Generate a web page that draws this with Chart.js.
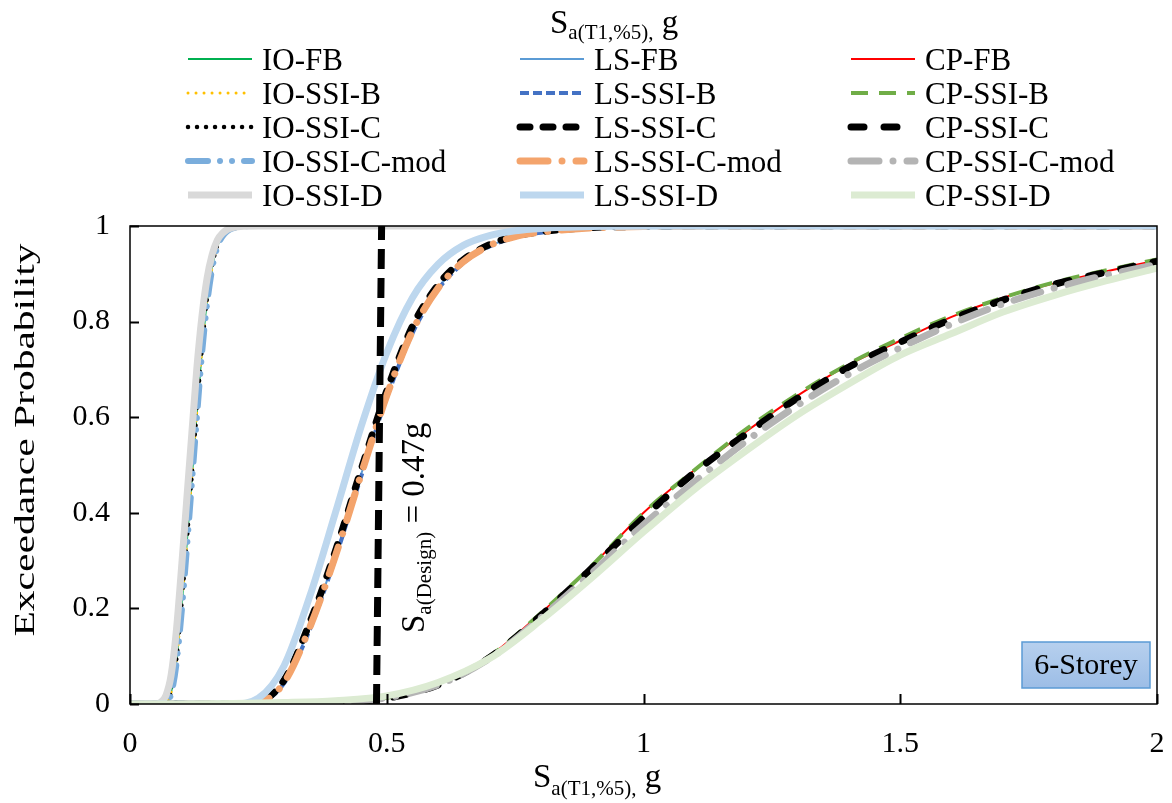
<!DOCTYPE html>
<html>
<head>
<meta charset="utf-8">
<script src="https://cdn.jsdelivr.net/npm/chart.js@4.4.0/dist/chart.umd.min.js"></script>
<style>
  html, body { margin: 0; padding: 0; background: #fff; }
  #wrap { width: 1172px; height: 803px; }
</style>
</head>
<body>
<div id="wrap"><canvas id="myChart" width="1172" height="803"></canvas></div>
<script>
// x grids (Sa, g) for each limit state group
const ioX = [0, 0.05, 0.06, 0.07, 0.08, 0.09, 0.10, 0.11, 0.12, 0.13, 0.14, 0.15, 0.16, 0.17, 0.18, 0.20, 0.25, 0.5, 1.0, 2.0];
const lsX = [0, 0.2, 0.25, 0.3, 0.35, 0.4, 0.45, 0.5, 0.55, 0.6, 0.65, 0.7, 0.75, 0.8, 0.9, 1.0, 1.2, 1.5, 2.0];
const cpX = [0, 0.1, 0.2, 0.3, 0.4, 0.5, 0.6, 0.7, 0.8, 0.9, 1.0, 1.1, 1.2, 1.3, 1.4, 1.5, 1.6, 1.7, 1.8, 1.9, 2.0];

// exceedance probabilities
const ioFB     = [0, 0, 0, 0.003, 0.025, 0.09, 0.20, 0.33, 0.47, 0.61, 0.74, 0.845, 0.915, 0.958, 0.98, 0.996, 1, 1, 1, 1];
const ioSsiB   = [0, 0, 0, 0.003, 0.024, 0.088, 0.20, 0.33, 0.47, 0.61, 0.74, 0.845, 0.915, 0.958, 0.98, 0.996, 1, 1, 1, 1];
const ioSsiC   = [0, 0, 0, 0.004, 0.026, 0.092, 0.205, 0.335, 0.475, 0.615, 0.745, 0.85, 0.918, 0.96, 0.981, 0.996, 1, 1, 1, 1];
const ioSsiCm  = [0, 0, 0, 0.002, 0.02, 0.08, 0.185, 0.315, 0.455, 0.595, 0.73, 0.835, 0.91, 0.955, 0.978, 0.995, 1, 1, 1, 1];
const ioSsiD   = [0, 0, 0.004, 0.018, 0.06, 0.15, 0.28, 0.42, 0.56, 0.70, 0.81, 0.89, 0.94, 0.97, 0.985, 0.997, 1, 1, 1, 1];

const lsFB     = [0, 0, 0.003, 0.045, 0.16, 0.31, 0.48, 0.645, 0.78, 0.87, 0.925, 0.958, 0.977, 0.987, 0.996, 0.999, 1, 1, 1];
const lsSsiB   = [0, 0, 0.003, 0.043, 0.155, 0.305, 0.475, 0.64, 0.775, 0.867, 0.923, 0.957, 0.976, 0.986, 0.996, 0.999, 1, 1, 1];
const lsSsiC   = [0, 0, 0.004, 0.05, 0.17, 0.32, 0.49, 0.655, 0.79, 0.877, 0.93, 0.961, 0.979, 0.988, 0.997, 0.999, 1, 1, 1];
const lsSsiCm  = [0, 0, 0.003, 0.045, 0.16, 0.31, 0.48, 0.645, 0.78, 0.87, 0.926, 0.959, 0.978, 0.987, 0.996, 0.999, 1, 1, 1];
const lsSsiD   = [0, 0, 0.012, 0.08, 0.225, 0.40, 0.58, 0.735, 0.85, 0.92, 0.96, 0.98, 0.99, 0.995, 0.999, 1, 1, 1, 1];

const cpFB     = [0, 0, 0, 0, 0.003, 0.013, 0.042, 0.10, 0.19, 0.29, 0.40, 0.49, 0.57, 0.645, 0.71, 0.76, 0.81, 0.85, 0.88, 0.905, 0.928];
const cpSsiB   = [0, 0, 0, 0, 0.003, 0.013, 0.043, 0.10, 0.19, 0.29, 0.40, 0.49, 0.575, 0.648, 0.712, 0.765, 0.812, 0.85, 0.882, 0.907, 0.93];
const cpSsiC   = [0, 0, 0, 0, 0.003, 0.012, 0.04, 0.097, 0.185, 0.285, 0.39, 0.485, 0.565, 0.64, 0.705, 0.757, 0.805, 0.845, 0.878, 0.903, 0.926];
const cpSsiCm  = [0, 0, 0, 0.001, 0.004, 0.013, 0.04, 0.095, 0.18, 0.275, 0.375, 0.465, 0.55, 0.625, 0.69, 0.745, 0.795, 0.837, 0.87, 0.897, 0.92];
const cpSsiD   = [0, 0, 0.001, 0.003, 0.007, 0.017, 0.045, 0.095, 0.175, 0.265, 0.36, 0.45, 0.53, 0.605, 0.67, 0.73, 0.775, 0.82, 0.855, 0.885, 0.912];

// design spectral acceleration line
const designX = [0.48, 0.49];
const designY = [0, 1];

const xTicks = [0, 0.5, 1, 1.5, 2];
const xTickLabels = ['0', '0.5', '1', '1.5', '2'];
const yTicks = [0, 0.2, 0.4, 0.6, 0.8, 1];
const yTickLabels = ['0', '0.2', '0.4', '0.6', '0.8', '1'];

const serif = '"Liberation Serif", "Times New Roman", serif';

function pts(xs, ys) {
    return xs.map(function (x, i) { return { x: x, y: ys[i] }; });
}

function series(label, xs, ys, color, width, dash, cap) {
    return {
        label: label,
        data: pts(xs, ys),
        borderColor: color,
        backgroundColor: color,
        borderWidth: width,
        borderDash: dash || [],
        borderCapStyle: cap || 'butt',
        fill: false,
        pointRadius: 0,
        pointHoverRadius: 0,
        cubicInterpolationMode: 'monotone'
    };
}

// legend order, row by row
const datasets = [
    series('IO-FB', ioX, ioFB, '#00b050', 2),
    series('LS-FB', lsX, lsFB, '#5b9bd5', 2),
    series('CP-FB', cpX, cpFB, '#ff0000', 2),
    series('IO-SSI-B', ioX, ioSsiB, '#ffc000', 3, [0.01, 8], 'round'),
    series('LS-SSI-B', lsX, lsSsiB, '#4472c4', 4, [9, 4]),
    series('CP-SSI-B', cpX, cpSsiB, '#70ad47', 4, [17, 11]),
    series('IO-SSI-C', ioX, ioSsiC, '#000000', 4.5, [0.01, 9], 'round'),
    series('LS-SSI-C', lsX, lsSsiC, '#000000', 7, [10, 13], 'round'),
    series('CP-SSI-C', cpX, cpSsiC, '#000000', 7, [13, 20], 'round'),
    series('IO-SSI-C-mod', ioX, ioSsiCm, '#7aaddc', 6, [20, 12, 0.01, 12, 0.01, 12], 'round'),
    series('LS-SSI-C-mod', lsX, lsSsiCm, '#f4a46c', 7, [28, 14, 0.01, 14], 'round'),
    series('CP-SSI-C-mod', cpX, cpSsiCm, '#b4b4b4', 7, [28, 14, 0.01, 14], 'round'),
    series('IO-SSI-D', ioX, ioSsiD, '#d9d9d9', 7),
    series('LS-SSI-D', lsX, lsSsiD, '#bdd7ee', 7),
    series('CP-SSI-D', cpX, cpSsiD, '#dcebd2', 7)
];
// later series on top, like the spreadsheet
datasets.forEach(function (d, i) { d.order = -i; });

const legendCount = datasets.length;

const design = series('design', designX, designY, '#000000', 7, [20, 9]);
design.cubicInterpolationMode = 'default';
design.tension = 0;
design.order = -100;
datasets.push(design);

function subText(ctx, x, y, main, sub, tail, big, small, drop) {
    ctx.font = big + 'px ' + serif;
    ctx.fillText(main, x, y);
    x += ctx.measureText(main).width;
    ctx.font = small + 'px ' + serif;
    ctx.fillText(sub, x, y + drop);
    x += ctx.measureText(sub).width;
    ctx.font = big + 'px ' + serif;
    ctx.fillText(tail, x, y);
    return x + ctx.measureText(tail).width;
}

const decor = {
    id: 'decor',
    afterDraw: function (chart) {
        const ctx = chart.ctx;
        const a = chart.chartArea;
        const xs = chart.scales.x;
        const ys = chart.scales.y;

        ctx.save();
        ctx.setLineDash([]);
        ctx.strokeStyle = '#000';
        ctx.lineWidth = 1.5;

        // frame
        ctx.strokeRect(a.left, a.top, a.right - a.left, a.bottom - a.top);

        // inner ticks
        ctx.lineWidth = 2;
        ctx.beginPath();
        xTicks.forEach(function (v) {
            const px = Math.round(xs.getPixelForValue(v)) + 0.5;
            ctx.moveTo(px, a.bottom);
            ctx.lineTo(px, a.bottom - 10);
        });
        yTicks.forEach(function (v) {
            const py = Math.round(ys.getPixelForValue(v)) + 0.5;
            ctx.moveTo(a.left, py);
            ctx.lineTo(a.left + 9, py);
        });
        ctx.stroke();

        ctx.fillStyle = '#000';
        ctx.font = '30px ' + serif;
        ctx.textAlign = 'center';
        ctx.textBaseline = 'alphabetic';
        xTicks.forEach(function (v, i) {
            ctx.fillText(xTickLabels[i], xs.getPixelForValue(v), 752);
        });
        ctx.textAlign = 'right';
        ctx.textBaseline = 'middle';
        yTicks.forEach(function (v, i) {
            ctx.fillText(yTickLabels[i], 110, ys.getPixelForValue(v));
        });

        // axis titles
        ctx.textAlign = 'left';
        ctx.textBaseline = 'alphabetic';
        subText(ctx, 533, 787, 'S', 'a(T1,%5),', ' g', 33, 21, 8);
        subText(ctx, 550, 33, 'S', 'a(T1,%5),', ' g', 33, 21, 6);

        ctx.save();
        ctx.translate(26, 440);
        ctx.rotate(-Math.PI / 2);
        ctx.font = '29px ' + serif;
        const w = ctx.measureText('Exceedance Probability').width;
        ctx.scale(393 / w, 1);
        ctx.textAlign = 'center';
        ctx.textBaseline = 'middle';
        ctx.fillText('Exceedance Probability', 0, 0);
        ctx.restore();

        // design label
        ctx.save();
        ctx.translate(424, 633);
        ctx.rotate(-Math.PI / 2);
        ctx.textAlign = 'left';
        ctx.textBaseline = 'alphabetic';
        subText(ctx, 0, 0, 'S', 'a(Design)', ' = 0.47g', 33, 21, 7);
        ctx.restore();

        // storey box
        const bx = 1022, by = 642, bw = 128, bh = 46;
        const g = ctx.createLinearGradient(0, by, 0, by + bh);
        g.addColorStop(0, '#b7d0ee');
        g.addColorStop(1, '#9cbde6');
        ctx.fillStyle = g;
        ctx.fillRect(bx, by, bw, bh);
        ctx.strokeStyle = '#5b9bd5';
        ctx.lineWidth = 1.5;
        ctx.strokeRect(bx, by, bw, bh);
        ctx.fillStyle = '#000';
        ctx.font = '30px ' + serif;
        ctx.textAlign = 'center';
        ctx.textBaseline = 'middle';
        ctx.fillText('6-Storey', bx + bw / 2, by + bh / 2 + 1);

        // legend, three columns
        const colX = [186, 518, 849];
        ctx.textAlign = 'left';
        ctx.textBaseline = 'alphabetic';
        chart.data.datasets.slice(0, legendCount).forEach(function (d, i) {
            const cx = colX[i % 3];
            const cy = 59 + 34 * Math.floor(i / 3);
            ctx.save();
            ctx.strokeStyle = d.borderColor;
            ctx.lineWidth = d.borderWidth;
            ctx.setLineDash(d.borderDash);
            ctx.lineCap = d.borderCapStyle;
            ctx.beginPath();
            ctx.moveTo(cx + 2, cy);
            ctx.lineTo(cx + 66, cy);
            ctx.stroke();
            ctx.restore();
            ctx.fillStyle = '#000';
            ctx.font = '31px ' + serif;
            ctx.fillText(d.label, cx + 76, cy + 10.5);
        });
        ctx.restore();
    }
};

const ctx = document.getElementById('myChart');

const myChart = new Chart(ctx, {
    type: 'line',
    data: { datasets: datasets },
    options: {
        responsive: false,
        animation: false,
        devicePixelRatio: 1,
        layout: { padding: { left: 130, right: 15, top: 226, bottom: 99 } },
        plugins: {
            legend: { display: false },
            tooltip: { enabled: false },
            title: { display: false }
        },
        scales: {
            x: { type: 'linear', min: 0, max: 2, display: false },
            y: { type: 'linear', min: 0, max: 1, display: false }
        }
    },
    plugins: [decor]
});
</script>
</body>
</html>
